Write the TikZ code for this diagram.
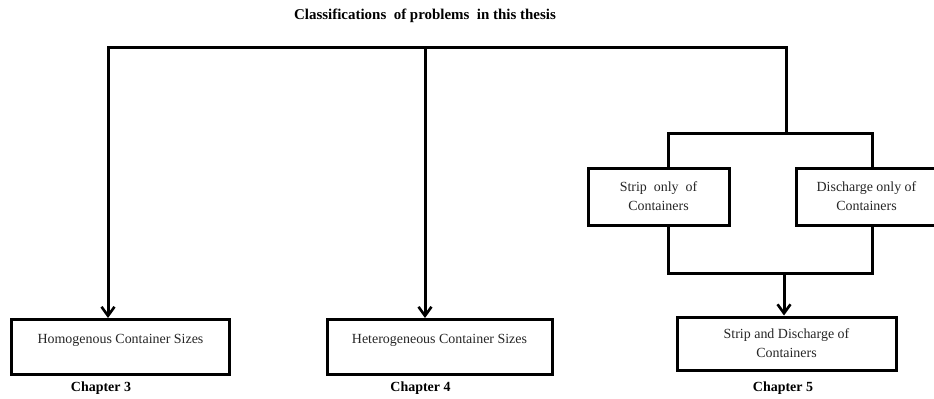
\documentclass[tikz,border=0pt]{standalone}
\usepackage{fontspec}
\setmainfont{Liberation Serif}
\usetikzlibrary{arrows.meta}
\begin{document}
\begin{tikzpicture}[x=1bp,y=-1bp,
  wire/.style={line width=3bp, black, line cap=rect, line join=miter},
  arrowwire/.style={wire, line cap=butt, -{Straight Barb[length=9bp,width=13bp,line width=2.6bp]}},
  box/.style={draw=black, line width=3bp, inner xsep=0pt, inner ysep=0pt,
    font=\fontsize{14}{19}\selectfont, align=center, text=black!85},
  chap/.style={font=\fontsize{14}{16}\selectfont\bfseries, text=black},
  heading/.style={font=\fontsize{15}{18}\selectfont\bfseries, text=black}]
\useasboundingbox (0,0) rectangle (934,398);
\fill[white] (0,0) rectangle (934,398);

% heading
\node[heading] (title) at (425,16) {Classifications\ \ of problems\ \ in this thesis};

% bottom row of problem classes
\node[box, anchor=north, minimum width=217bp, text height=24bp, text depth=31bp]
  (hom) at (120.5,318) {Homogenous Container Sizes};
\node[box, anchor=north, minimum width=225bp, text height=24bp, text depth=31bp]
  (het) at (439.5,318) {Heterogeneous Container Sizes};
\node[box, minimum width=219bp, minimum height=53bp]
  (sd) at (786.5,343.5) {Strip and Discharge of\\Containers};

% Chapter 5 sub-problems
\node[box, minimum width=141bp, minimum height=57bp]
  (strip) at (658.5,196.5) {Strip\ \ only\ \ of\\Containers};
\node[box, minimum width=141bp, minimum height=57bp]
  (dis) at (866.5,196.5) {Discharge\ only\ of\\Containers};

% chapter captions
\node[chap] (c3) at (101,388) {Chapter\ 3};
\node[chap] (c4) at (420.5,388) {Chapter\ 4};
\node[chap] (c5) at (783,388) {Chapter\ 5};

% junction points
\coordinate (tl) at (108,47);
\coordinate (tm) at (425,47);
\coordinate (tr) at (786,47);
\coordinate (ml) at (668,133);
\coordinate (mr) at (872,133);
\coordinate (bl) at (668,273);
\coordinate (br) at (872,273);
\coordinate (bm) at (784,273);

% main bracket
\draw[wire] (tl) -- (tr);
\draw[arrowwire] (tl) -- (tl |- hom.north);
\draw[arrowwire] (tm) -- (tm |- het.north);

% chapter 5 branch
\draw[wire] (tr) -- (tr |- ml);
\draw[wire] (ml |- strip.north) -- (ml) -- (mr) -- (mr |- dis.north);
\draw[wire] (bl |- strip.south) -- (bl) -- (br) -- (br |- dis.south);
\draw[arrowwire] (bm) -- (bm |- sd.north);
\end{tikzpicture}
\end{document}
